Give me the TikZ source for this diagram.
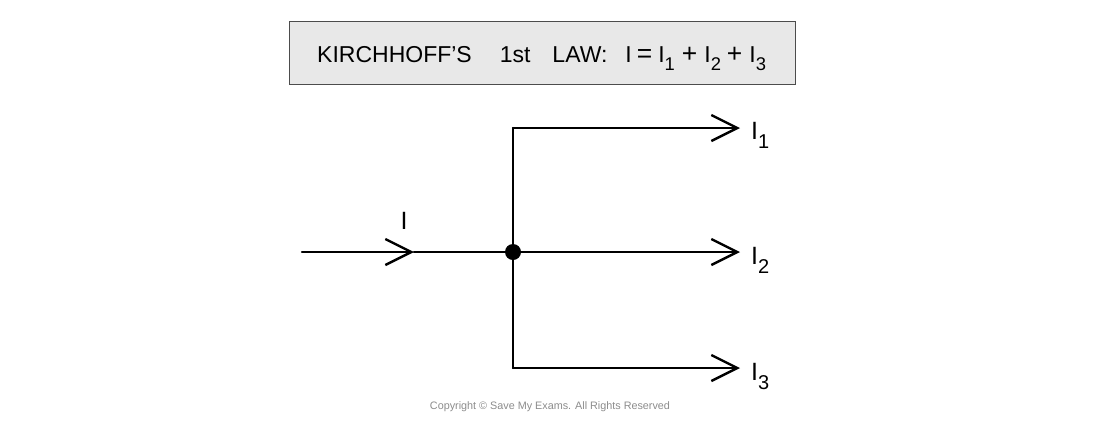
\documentclass[tikz,border=0pt]{standalone}
\usepackage{fontspec}
\setmainfont{Liberation Sans}
\usetikzlibrary{arrows.meta}
\newcommand\mysub[1]{\raisebox{-0.36em}{\scalebox{0.8}{#1}}}
\newcommand\bigop[1]{\raisebox{-0.02em}{\scalebox{1.15}{#1}}}
\begin{document}
\begin{tikzpicture}[x=1pt,y=-1pt,
  wire/.style={line width=2.4pt,line cap=round},
  chev/.style={wire,-{Straight Barb[length=26pt,width=26pt,line width=2.4pt]}},
  lbl/.style={font=\fontsize{25}{28}\selectfont,inner sep=0pt},
  titlebox/.style={draw=black!70,line width=1pt,fill=black!9,minimum width=506pt,minimum height=63pt}]
\useasboundingbox (0,0) rectangle (1100,424);
\node[titlebox] (title) at (542,52.5) {};
\node[font=\fontsize{23}{28}\selectfont,inner sep=0pt,anchor=base west] (tt) at (317,62) {KIRCHHOFF'S\hspace{28pt}1st\hspace{22pt}LAW:\hspace{18pt}I\hspace{5pt}\bigop{=}\hspace{6pt}I\mysub{1}\hspace{7pt}\bigop{+}\hspace{7pt}I\mysub{2}\hspace{6pt}\bigop{+}\hspace{7pt}I\mysub{3}};
\coordinate (in) at (302,252);
\coordinate (inarr) at (414,252);
\node[circle,fill=black,inner sep=0pt,minimum size=16pt] (j) at (513,252) {};
\coordinate (top) at (513,128);
\coordinate (bot) at (513,368);
\coordinate (t1) at (740,128);
\coordinate (t2) at (740,252);
\coordinate (t3) at (740,368);
\draw[chev] (in) -- (inarr);
\draw[wire] (inarr) -- (j.center);
\draw[wire] (top) -- (bot);
\draw[chev] (top) -- (t1);
\draw[chev] (j.center) -- (t2);
\draw[chev] (bot) -- (t3);
\node[lbl,anchor=base] (lI) at (404,229) {I};
\node[lbl,anchor=base west] (l1) at (751,139) {I\mysub{1}};
\node[lbl,anchor=base west] (l2) at (751,264) {I\mysub{2}};
\node[lbl,anchor=base west] (l3) at (751,380) {I\mysub{3}};
\node[font=\fontsize{10.8}{13}\selectfont,text=black!45] (copy) at (550,407) {Copyright © Save My Exams. All Rights Reserved};
\end{tikzpicture}
\end{document}
